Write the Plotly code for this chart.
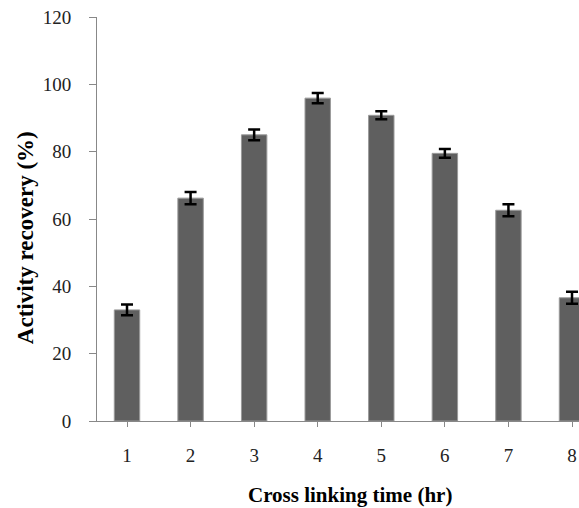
import plotly.graph_objects as go

categories = ["1", "2", "3", "4", "5", "6", "7", "8"]
x_pos = [1, 2, 3, 4, 5, 6, 7, 8]
activity = [33.0, 66.2, 85.0, 95.9, 90.8, 79.5, 62.6, 36.6]
errors = [1.6, 1.8, 1.6, 1.5, 1.2, 1.3, 1.8, 1.8]
y_ticks = [0, 20, 40, 60, 80, 100, 120]
x_title = "Cross linking time (hr)"
y_title = "Activity recovery (%)"

fig = go.Figure()
fig.add_trace(go.Bar(
    x=x_pos, y=activity, width=0.4,
    marker=dict(color="#5f5f5f", line=dict(color="#9a9a9a", width=1)),
    error_y=dict(type="data", array=errors, visible=True, color="black",
                 thickness=2.5, width=6),
))

serif = "Liberation Serif"
fig.update_layout(
    width=579, height=508,
    margin=dict(l=97, r=0, t=17, b=87, pad=0),
    plot_bgcolor="white", paper_bgcolor="white",
    showlegend=False,
    bargap=0.6,
    xaxis=dict(
        range=[0.528, 8.11], tickvals=x_pos, ticktext=categories,
        showline=True, linecolor="#888888", linewidth=1,
        ticks="outside", ticklen=5, tickcolor="#888888",
        showgrid=False, zeroline=False,
        tickfont=dict(family=serif, size=19, color="#222222"),
        ticklabelstandoff=12, ticklabeloverflow="allow",
    ),
    yaxis=dict(
        range=[0, 120], tickvals=y_ticks,
        showline=True, linecolor="#888888", linewidth=1,
        ticks="outside", ticklen=7, tickcolor="#888888",
        showgrid=False, zeroline=False,
        tickfont=dict(family=serif, size=19, color="#222222"),
        ticklabelstandoff=14,
    ),
    annotations=[
        dict(text="<b>%s</b>" % x_title, xref="paper", yref="paper",
             x=0.525, y=-0.184, xanchor="center", yanchor="middle",
             showarrow=False, font=dict(family=serif, size=21, color="black")),
        dict(text="<b>%s</b>" % y_title, xref="paper", yref="paper",
             x=-0.147, y=0.453, xanchor="center", yanchor="middle", textangle=-90,
             showarrow=False, font=dict(family=serif, size=23, color="black")),
    ],
)

fig.write_html("out.html")
